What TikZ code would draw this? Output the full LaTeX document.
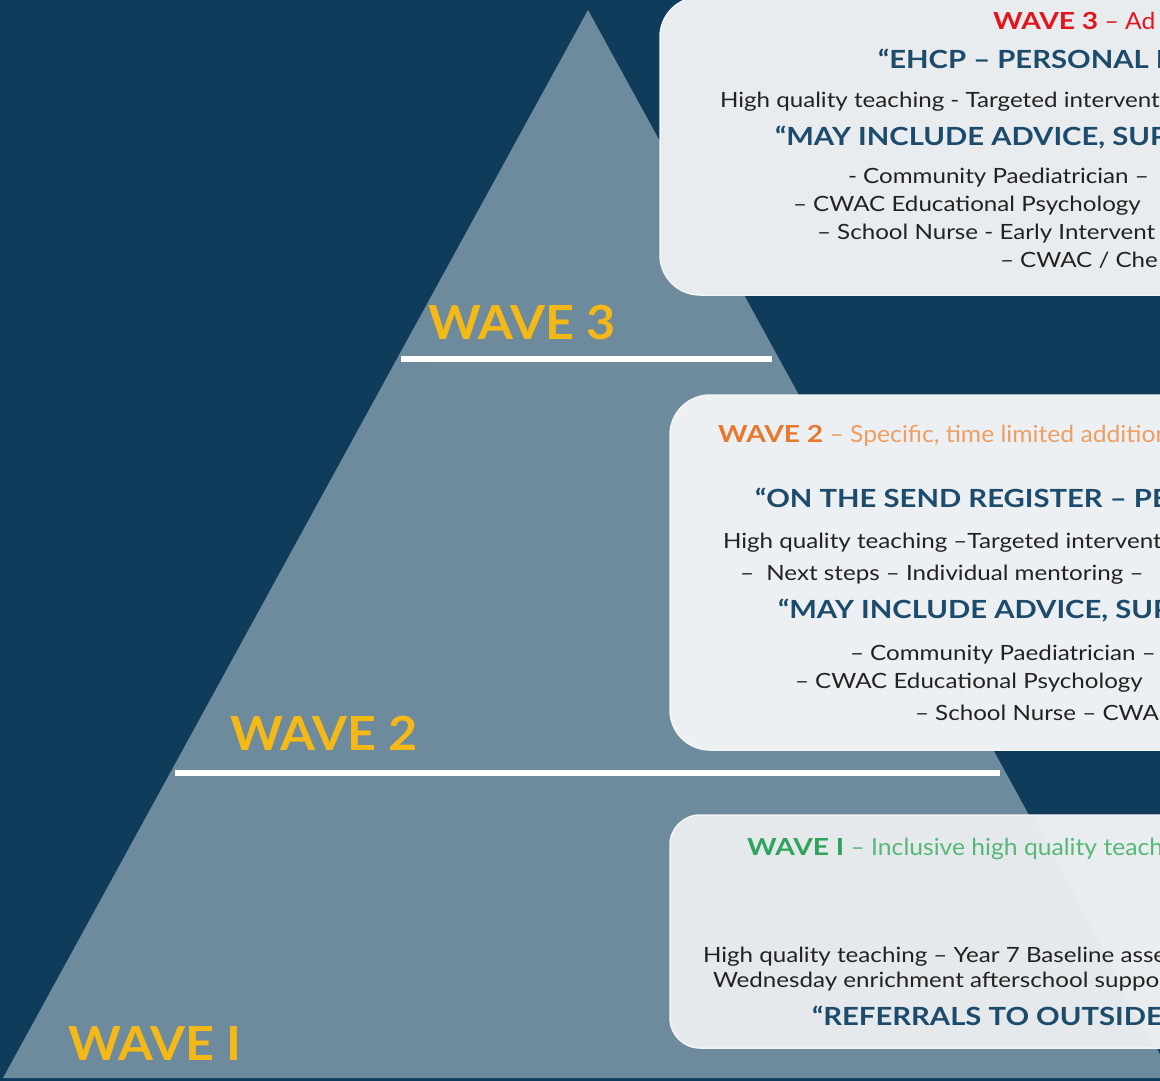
\documentclass[tikz,border=0pt]{standalone}
\usepackage{fontspec}
\setmainfont{Lato}[FakeStretch=1.15]
\newfontfamily\headfont{Lato}[FakeStretch=1.17]
\newfontfamily\titlefont{Lato}[FakeStretch=1.05]
\newfontfamily\titleboldfont{Lato}[FakeStretch=1.2]
\newfontfamily\labelfont{Lato}[FakeStretch=1.07]
\definecolor{navybg}{HTML}{0E3C5A}
\definecolor{pyr}{HTML}{6E8B9D}
\definecolor{boxa}{HTML}{E8ECEF}
\definecolor{boxb}{HTML}{EDF0F3}
\definecolor{boxc}{HTML}{E5E9EC}
\definecolor{boxsheen}{HTML}{F2F4F6}
\definecolor{headnavy}{HTML}{1D4B6B}
\definecolor{bodytext}{HTML}{222222}
\definecolor{wred}{HTML}{E3151C}
\definecolor{worange}{HTML}{E8782E}
\definecolor{worangelt}{HTML}{EE9E62}
\definecolor{wgreen}{HTML}{2FA35C}
\definecolor{wgreenlt}{HTML}{55B877}
\definecolor{wyellow}{HTML}{F5B917}
\newcommand{\wavetag}[1]{{\titleboldfont\bfseries #1}}
\begin{document}
\begin{tikzpicture}[x=1pt,y=-1pt,
  txt/.style={anchor=base west, inner sep=0pt, outer sep=0pt},
  body/.style={txt, text=bodytext, font=\fontsize{21}{25}\selectfont},
  head/.style={txt, text=headnavy, font=\headfont\fontsize{25}{29}\selectfont\bfseries},
  title/.style={txt, font=\titlefont\fontsize{23.5}{27}\selectfont},
  wavelabel/.style={txt, text=wyellow, font=\labelfont\fontsize{47}{50}\selectfont\bfseries},
  whiteline/.style={draw=white, line width=5.5pt},
  panel/.style={draw=boxsheen, line width=1.5pt}]
\useasboundingbox (0,0) rectangle (1160,1081);
\clip (0,0) rectangle (1160,1081);
% background and pyramid
\fill[navybg] (0,0) rectangle (1160,1081);
\fill[pyr] (588,10) -- (1173,1078) -- (3,1078) -- cycle;
% tier lines
\coordinate (l3a) at (401,359);
\coordinate (l3b) at (772,359);
\coordinate (l2a) at (175,773);
\coordinate (l2b) at (1000,773);
\draw[whiteline] (l3a) -- (l3b);
\draw[whiteline] (l2a) -- (l2b);
% pyramid labels
\node[wavelabel] (lab3) at (428,339) {WAVE 3};
\node[wavelabel] (lab2) at (230,750) {WAVE 2};
\node[wavelabel] (lab1) at (68,1060) {WAVE I};
% boxes
\filldraw[panel, fill=boxa, rounded corners=40] (660,-3) rectangle (1250,295);
\filldraw[panel, fill=boxb, rounded corners=40] (670,395) rectangle (1250,750);
\filldraw[panel, fill=boxc, rounded corners=30] (670,815) rectangle (1250,1048);
% subtle sheen where the lowest box leaves the pyramid
\begin{scope}
  \clip[rounded corners=30] (670,815) rectangle (1250,1048);
  \fill[boxsheen, opacity=0.45] (1025,800) -- (1160,1060) -- (1300,1060) -- (1300,800) -- cycle;
\end{scope}
% box 3 texts
\node[title, text=wred] (w3t) at (993,30) {\wavetag{WAVE 3} – Ad};
\node[head] (w3a) at (878,69) {“EHCP – PERSONAL B};
\node[body] (w3b) at (720,107) {High quality teaching - Targeted intervent};
\node[head] (w3c) at (775,146) {“MAY INCLUDE ADVICE, SUP};
\node[body] (w3d) at (848,183) {- Community Paediatrician –};
\node[body] (w3e) at (793,211) {– CWAC Educational Psychology};
\node[body] (w3f) at (817,239) {– School Nurse - Early Intervent};
\node[body] (w3g) at (1000,267) {– CWAC / Che};
% box 2 texts
\node[title, text=worangelt] (w2t) at (718,442) {\textcolor{worange}{\wavetag{WAVE 2}} – Specific, time limited addition};
\node[head] (w2a) at (755,507) {“ON THE SEND REGISTER – PE};
\node[body] (w2b) at (723,548) {High quality teaching –Targeted intervent};
\node[body] (w2c) at (740,580) {–\ \ Next steps – Individual mentoring –};
\node[head] (w2d) at (778,618) {“MAY INCLUDE ADVICE, SUP};
\node[body] (w2e) at (850,660) {– Community Paediatrician –};
\node[body] (w2f) at (795,688) {– CWAC Educational Psychology};
\node[body] (w2g) at (915,720) {– School Nurse – CWA};
% box 1 texts
\node[title, text=wgreenlt] (w1t) at (747,855) {\textcolor{wgreen}{\wavetag{WAVE I}} – Inclusive high quality teach};
\node[body] (w1a) at (703,962) {High quality teaching – Year 7 Baseline asse};
\node[body] (w1b) at (713,987) {Wednesday enrichment afterschool suppo};
\node[head] (w1c) at (812,1025) {“REFERRALS TO OUTSIDE};
\end{tikzpicture}
\end{document}
